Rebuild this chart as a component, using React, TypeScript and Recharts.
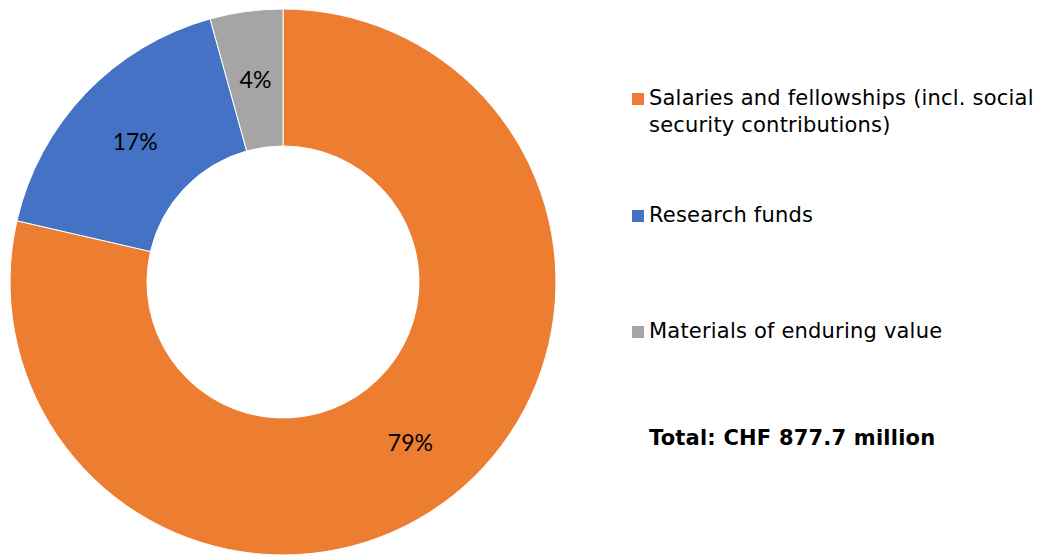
import React from 'react';
import { PieChart, Pie, Cell, Legend } from 'recharts';

const categories = [
  'Salaries and fellowships (incl. social security contributions)',
  'Research funds',
  'Materials of enduring value',
];
const shares = [78.6, 17.1, 4.3];
const pctLabels = ['79%', '17%', '4%'];
const colors = ['#ED7D31', '#4472C4', '#A5A5A5'];
const totalLabel = 'Total: CHF 877.7 million';

const data = categories.map((name, i) => ({ name, value: shares[i], label: pctLabels[i] }));

const RAD = Math.PI / 180;

const renderLabel = (props: any) => {
  const { cx, cy, midAngle, innerRadius, outerRadius, index } = props;
  const r = (innerRadius + outerRadius) / 2;
  const x = cx + r * Math.cos(-midAngle * RAD);
  const y = cy + r * Math.sin(-midAngle * RAD);
  return (
    <text
      x={x}
      y={y}
      textAnchor="middle"
      dominantBaseline="central"
      fill="#000"
      style={{ fontFamily: 'Lato, "Liberation Sans", sans-serif', fontSize: 23 }}
    >
      {pctLabels[index]}
    </text>
  );
};

const LegendContent = () => (
  <div style={{ fontFamily: '"DejaVu Sans", Verdana, sans-serif', fontSize: 21, letterSpacing: 0.2, color: '#000' }}>
    {[
      ['Salaries and fellowships (incl. social', 'security contributions)'],
      ['Research funds'],
      ['Materials of enduring value'],
    ].map((lines, i) => (
      <div key={i} style={{ position: 'absolute', left: 0, top: [0, 117, 233][i], lineHeight: '27px' }}>
        <span
          style={{
            position: 'absolute',
            left: -17,
            top: 8,
            width: 12,
            height: 12,
            background: colors[i],
          }}
        />
        {lines.map((l, j) => (
          <div key={j} style={{ whiteSpace: 'nowrap' }}>{l}</div>
        ))}
      </div>
    ))}
    <div style={{ position: 'absolute', left: 0, top: 340, fontWeight: 'bold', whiteSpace: 'nowrap', lineHeight: '27px' }}>
      {totalLabel}
    </div>
  </div>
);

export default function App() {
  return (
    <div style={{ position: 'absolute', left: 0, top: 0, width: 1040, height: 556, background: '#fff' }}>
      <PieChart width={1040} height={556}>
        <Pie
          data={data}
          dataKey="value"
          nameKey="name"
          cx={278}
          cy={277}
          innerRadius={136}
          outerRadius={273}
          startAngle={90}
          endAngle={-270}
          stroke="#fff"
          strokeWidth={1}
          label={renderLabel}
          labelLine={false}
          isAnimationActive={false}
        >
          {data.map((d, i) => (
            <Cell key={d.name} fill={colors[i]} />
          ))}
        </Pie>
        <Legend
          content={<LegendContent />}
          wrapperStyle={{ position: 'absolute', left: 649, top: 85, width: 390, height: 400 }}
        />
      </PieChart>
    </div>
  );
}
